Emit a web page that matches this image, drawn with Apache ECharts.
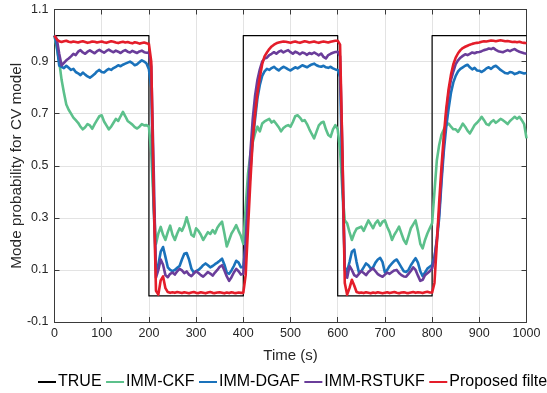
<!DOCTYPE html>
<html>
<head>
<meta charset="utf-8">
<script src="https://cdn.jsdelivr.net/npm/echarts@6/dist/echarts.min.js"></script>
<style>
  html, body { margin: 0; padding: 0; background: #ffffff; }
  #chart { width: 547px; height: 393px; }
</style>
</head>
<body>
<div id="chart"></div>
<script>
// Sampling period of the filter outputs (s); sample k is taken at k * STEP.
const STEP = 5;

// True motion mode: 1 while the target moves with constant velocity, 0 otherwise.
const trueTime  = [0, 200, 200, 400, 400, 600, 600, 800, 800, 1000];
const trueValue = [1, 1, 0, 0, 1, 1, 0, 0, 1, 1];

// CV-model probability, 0 ... 1000 s.
const immCkf = [
  1.000, 0.950, 0.900, 0.830, 0.780, 0.735, 0.715, 0.700, 0.685, 0.675,
  0.665, 0.650, 0.640, 0.648, 0.660, 0.655, 0.642, 0.660, 0.675, 0.690,
  0.694, 0.670, 0.655, 0.640, 0.650, 0.665, 0.680, 0.672, 0.690, 0.707,
  0.690, 0.672, 0.665, 0.658, 0.648, 0.643, 0.650, 0.660, 0.655, 0.656,
  0.650, 0.550, 0.350, 0.200, 0.240, 0.265, 0.235, 0.215, 0.245, 0.270,
  0.235, 0.215, 0.240, 0.260, 0.250, 0.270, 0.302, 0.270, 0.235, 0.228,
  0.260, 0.250, 0.235, 0.215, 0.230, 0.245, 0.238, 0.253, 0.240, 0.262,
  0.275, 0.285, 0.240, 0.190, 0.215, 0.240, 0.255, 0.272, 0.250, 0.230,
  0.200, 0.340, 0.470, 0.545, 0.590, 0.625, 0.650, 0.632, 0.662, 0.670,
  0.675, 0.680, 0.666, 0.672, 0.660, 0.648, 0.632, 0.645, 0.652, 0.656,
  0.650, 0.668, 0.690, 0.694, 0.685, 0.672, 0.675, 0.660, 0.640, 0.622,
  0.605, 0.630, 0.655, 0.665, 0.669, 0.640, 0.618, 0.611, 0.640, 0.656,
  0.640, 0.560, 0.400, 0.290, 0.279, 0.245, 0.215, 0.240, 0.258, 0.262,
  0.266, 0.250, 0.270, 0.290, 0.275, 0.260, 0.280, 0.290, 0.270, 0.285,
  0.290, 0.265, 0.245, 0.215, 0.235, 0.250, 0.266, 0.240, 0.215, 0.200,
  0.230, 0.260, 0.275, 0.290, 0.250, 0.200, 0.183, 0.215, 0.240, 0.260,
  0.279, 0.400, 0.520, 0.580, 0.620, 0.640, 0.655, 0.662, 0.650, 0.640,
  0.640, 0.630, 0.645, 0.662, 0.650, 0.635, 0.624, 0.640, 0.656, 0.665,
  0.675, 0.688, 0.675, 0.660, 0.656, 0.668, 0.675, 0.665, 0.672, 0.680,
  0.675, 0.668, 0.660, 0.672, 0.680, 0.688, 0.680, 0.688, 0.675, 0.660,
  0.605
];

const immDgaf = [
  1.000, 0.960, 0.885, 0.880, 0.875, 0.884, 0.876, 0.868, 0.872, 0.860,
  0.855, 0.848, 0.858, 0.850, 0.843, 0.838, 0.845, 0.852, 0.862, 0.868,
  0.860, 0.858, 0.866, 0.872, 0.868, 0.875, 0.880, 0.886, 0.882, 0.888,
  0.892, 0.896, 0.900, 0.894, 0.886, 0.890, 0.898, 0.905, 0.900, 0.893,
  0.870, 0.800, 0.350, 0.100, 0.120, 0.170, 0.188, 0.150, 0.110, 0.100,
  0.095, 0.100, 0.108, 0.115, 0.140, 0.162, 0.165, 0.140, 0.105, 0.090,
  0.095, 0.100, 0.108, 0.118, 0.125, 0.118, 0.110, 0.115, 0.122, 0.128,
  0.135, 0.143, 0.120, 0.090, 0.085, 0.098, 0.115, 0.135, 0.128, 0.110,
  0.110, 0.200, 0.340, 0.480, 0.600, 0.680, 0.760, 0.810, 0.845, 0.862,
  0.872, 0.868, 0.875, 0.880, 0.872, 0.866, 0.874, 0.880, 0.876, 0.870,
  0.866, 0.872, 0.878, 0.874, 0.880, 0.886, 0.882, 0.878, 0.884, 0.889,
  0.892, 0.886, 0.882, 0.880, 0.884, 0.878, 0.876, 0.880, 0.874, 0.870,
  0.868, 0.840, 0.450, 0.110, 0.095, 0.130, 0.170, 0.178, 0.130, 0.090,
  0.095, 0.110, 0.125, 0.118, 0.105, 0.110, 0.128, 0.140, 0.146, 0.130,
  0.090, 0.100, 0.115, 0.125, 0.135, 0.140, 0.125, 0.110, 0.095, 0.092,
  0.100, 0.118, 0.132, 0.145, 0.128, 0.095, 0.076, 0.090, 0.105, 0.112,
  0.119, 0.150, 0.210, 0.300, 0.440, 0.560, 0.650, 0.720, 0.780, 0.820,
  0.845, 0.862, 0.872, 0.878, 0.884, 0.888, 0.878, 0.870, 0.876, 0.866,
  0.865, 0.860, 0.866, 0.874, 0.878, 0.872, 0.880, 0.884, 0.876, 0.868,
  0.862, 0.856, 0.854, 0.860, 0.858, 0.852, 0.855, 0.860, 0.857, 0.854,
  0.856
];

const immRstukf = [
  1.000, 0.985, 0.930, 0.885, 0.895, 0.905, 0.912, 0.920, 0.930, 0.925,
  0.938, 0.944, 0.935, 0.930, 0.938, 0.943, 0.937, 0.932, 0.940, 0.945,
  0.939, 0.934, 0.941, 0.946, 0.940, 0.936, 0.942, 0.938, 0.933, 0.940,
  0.944, 0.938, 0.935, 0.941, 0.937, 0.933, 0.939, 0.942, 0.936, 0.934,
  0.935, 0.880, 0.500, 0.070, 0.100, 0.140, 0.120, 0.080, 0.072, 0.085,
  0.090, 0.082, 0.095, 0.104, 0.098, 0.088, 0.094, 0.082, 0.076, 0.086,
  0.095, 0.088, 0.080, 0.074, 0.083, 0.092, 0.086, 0.078, 0.090, 0.100,
  0.112, 0.118, 0.098, 0.075, 0.058, 0.072, 0.090, 0.104, 0.095, 0.082,
  0.085, 0.200, 0.380, 0.550, 0.680, 0.770, 0.830, 0.870, 0.900, 0.912,
  0.915, 0.925, 0.930, 0.936, 0.930, 0.938, 0.942, 0.935, 0.940, 0.944,
  0.936, 0.930, 0.938, 0.934, 0.928, 0.935, 0.932, 0.926, 0.933, 0.929,
  0.935, 0.930, 0.924, 0.931, 0.918, 0.912, 0.925, 0.930, 0.934, 0.937,
  0.938, 0.920, 0.550, 0.100, 0.070, 0.115, 0.100, 0.080, 0.074, 0.085,
  0.095, 0.088, 0.080, 0.092, 0.100, 0.106, 0.095, 0.084, 0.078, 0.074,
  0.082, 0.090, 0.085, 0.092, 0.098, 0.100, 0.088, 0.080, 0.075, 0.074,
  0.085, 0.096, 0.110, 0.100, 0.078, 0.058, 0.062, 0.080, 0.087, 0.095,
  0.106, 0.140, 0.220, 0.320, 0.460, 0.590, 0.700, 0.780, 0.830, 0.862,
  0.890, 0.905, 0.915, 0.922, 0.928, 0.925, 0.930, 0.935, 0.932, 0.936,
  0.937, 0.940, 0.944, 0.946, 0.950, 0.948, 0.952, 0.945, 0.940, 0.938,
  0.936, 0.940, 0.944, 0.940, 0.945, 0.948, 0.942, 0.938, 0.935, 0.932,
  0.930
];

const proposed = [
  1.000, 0.985, 0.978, 0.975, 0.978, 0.980, 0.976, 0.974, 0.977, 0.975,
  0.973, 0.976, 0.978, 0.975, 0.972, 0.974, 0.977, 0.976, 0.973, 0.975,
  0.977, 0.974, 0.972, 0.975, 0.978, 0.976, 0.973, 0.971, 0.974, 0.976,
  0.973, 0.975, 0.972, 0.970, 0.974, 0.972, 0.969, 0.971, 0.973, 0.970,
  0.968, 0.900, 0.400, 0.020, 0.005, 0.060, 0.075, 0.030, 0.015, 0.012,
  0.014, 0.012, 0.015, 0.013, 0.011, 0.014, 0.012, 0.010, 0.013, 0.015,
  0.012, 0.011, 0.014, 0.012, 0.010, 0.013, 0.015, 0.012, 0.011, 0.013,
  0.014, 0.012, 0.010, 0.013, 0.011, 0.014, 0.012, 0.011, 0.013, 0.012,
  0.012, 0.080, 0.260, 0.440, 0.600, 0.700, 0.780, 0.840, 0.890, 0.920,
  0.935, 0.948, 0.958, 0.965, 0.970, 0.973, 0.975, 0.977, 0.976, 0.974,
  0.972, 0.975, 0.977, 0.974, 0.972, 0.975, 0.978, 0.976, 0.973, 0.975,
  0.977, 0.974, 0.972, 0.975, 0.977, 0.975, 0.973, 0.976, 0.978, 0.980,
  0.980, 0.965, 0.550, 0.050, 0.005, 0.030, 0.062, 0.040, 0.015, 0.012,
  0.013, 0.011, 0.014, 0.012, 0.010, 0.013, 0.011, 0.014, 0.012, 0.010,
  0.012, 0.014, 0.011, 0.013, 0.015, 0.012, 0.010, 0.013, 0.014, 0.012,
  0.011, 0.013, 0.015, 0.012, 0.014, 0.013, 0.011, 0.014, 0.016, 0.013,
  0.013, 0.050, 0.200, 0.360, 0.500, 0.620, 0.720, 0.795, 0.850, 0.890,
  0.915, 0.932, 0.944, 0.952, 0.957, 0.961, 0.965, 0.968, 0.970, 0.972,
  0.973, 0.976, 0.978, 0.977, 0.979, 0.981, 0.980, 0.978, 0.980, 0.982,
  0.980, 0.978, 0.979, 0.977, 0.975, 0.976, 0.974, 0.976, 0.973, 0.972,
  0.970
];

const yTicks = { min: -0.1, max: 1.1, interval: 0.2 };
const xTicks = { min: 0, max: 1000, interval: 100 };

const FONT = '"Liberation Sans", Arial, Helvetica, sans-serif';
const AXIS_COLOR = '#3a3a3a';
const TEXT_COLOR = '#262626';

function toPairs(values) {
  return values.map((v, i) => [i * STEP, v]);
}

function truePairs() {
  return trueTime.map((t, i) => [t, trueValue[i]]);
}

function lineSeries(name, data, color, width) {
  return {
    name: name,
    type: 'line',
    data: data,
    showSymbol: false,
    symbol: 'none',
    smooth: false,
    lineStyle: { color: color, width: width, join: 'round' },
    itemStyle: { color: color },
    emphasis: { disabled: true },
    animation: false
  };
}

const chart = echarts.init(document.getElementById('chart'), null, { renderer: 'canvas' });

const tickStyle = { inside: true, length: 5, lineStyle: { color: AXIS_COLOR, width: 1 } };
const lineStyleAxis = { show: true, onZero: false, lineStyle: { color: AXIS_COLOR, width: 1 } };

chart.setOption({
  backgroundColor: '#ffffff',
  animation: false,
  textStyle: { fontFamily: FONT },
  grid: {
    left: 54.5, right: 20.5, top: 9.5, bottom: 71,
    containLabel: false,
    outerBoundsMode: 'none'
  },
  legend: {
    data: ['TRUE', 'IMM-CKF', 'IMM-DGAF', 'IMM-RSTUKF', 'Proposed filter'],
    left: 33,
    top: 369,
    width: 700,
    icon: 'rect',
    itemWidth: 18,
    itemHeight: 2,
    itemGap: 4.5,
    textStyle: {
      fontFamily: FONT, fontSize: 16, color: '#000000',
      padding: [0, 0, 0, -3]
    },
    selectedMode: false
  },
  xAxis: [
    {
      type: 'value',
      position: 'bottom',
      min: xTicks.min, max: xTicks.max, interval: xTicks.interval,
      name: 'Time (s)',
      nameLocation: 'middle',
      nameGap: 26,
      nameMoveOverlap: false,
      nameTextStyle: { fontFamily: FONT, fontSize: 15, color: TEXT_COLOR },
      axisLine: lineStyleAxis,
      axisTick: tickStyle,
      axisLabel: {
        fontFamily: FONT, fontSize: 12.5, color: TEXT_COLOR, margin: 5,
        formatter: function (v) { return String(Math.round(v)); }
      },
      splitLine: { show: true, lineStyle: { color: '#e3e3e3', width: 1 } }
    },
    {
      type: 'value',
      position: 'top',
      min: xTicks.min, max: xTicks.max, interval: xTicks.interval,
      axisLine: lineStyleAxis,
      axisTick: tickStyle,
      axisLabel: { show: false },
      splitLine: { show: false }
    }
  ],
  yAxis: [
    {
      type: 'value',
      position: 'left',
      min: yTicks.min, max: yTicks.max, interval: yTicks.interval,
      name: 'Mode probability for CV model',
      nameLocation: 'middle',
      nameGap: 30,
      nameMoveOverlap: false,
      nameTextStyle: { fontFamily: FONT, fontSize: 15.3, color: TEXT_COLOR },
      axisLine: lineStyleAxis,
      axisTick: tickStyle,
      axisLabel: {
        fontFamily: FONT, fontSize: 12.5, color: TEXT_COLOR, margin: 6,
        formatter: function (v) { return (Math.round(v * 10) / 10).toFixed(1); }
      },
      splitLine: { show: true, lineStyle: { color: '#e3e3e3', width: 1 } }
    },
    {
      type: 'value',
      position: 'right',
      min: yTicks.min, max: yTicks.max, interval: yTicks.interval,
      axisLine: lineStyleAxis,
      axisTick: tickStyle,
      axisLabel: { show: false },
      splitLine: { show: false }
    }
  ],
  series: [
    lineSeries('TRUE', truePairs(), '#000000', 1.2),
    lineSeries('IMM-CKF', toPairs(immCkf), '#5cc08b', 2.6),
    lineSeries('IMM-DGAF', toPairs(immDgaf), '#1a72bb', 2.6),
    lineSeries('IMM-RSTUKF', toPairs(immRstukf), '#6a3d9a', 2.6),
    lineSeries('Proposed filter', toPairs(proposed), '#e41d2a', 2.6)
  ]
});
</script>
</body>
</html>
